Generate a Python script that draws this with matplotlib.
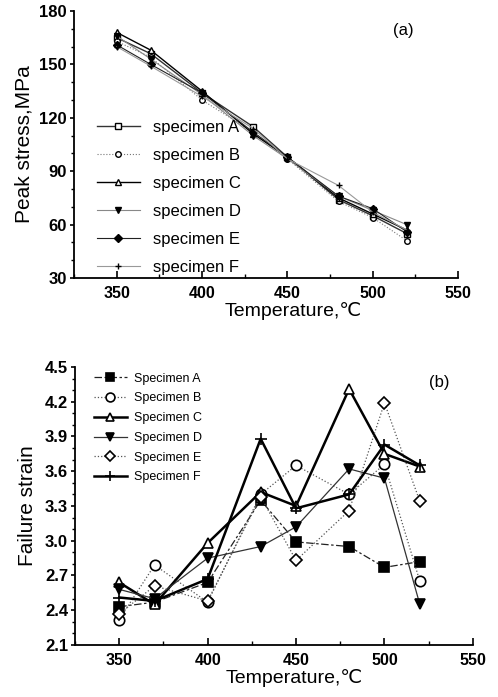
import matplotlib
matplotlib.use("Agg")
import matplotlib.pyplot as plt
from matplotlib.ticker import MultipleLocator

plt.rcParams['font.family'] = ['Liberation Sans', 'DejaVu Sans']

temps = [350, 370, 400, 430, 450, 480, 500, 520]

# (a) Peak stress, MPa
stress_A = [165, 156, 134, 115, 98, 74, 65, 55]
stress_B = [163, 154, 130, 112, 97, 73, 64, 51]
stress_C = [168, 158, 135, 111, 98, 75, 66, 57]
stress_D = [166, 153, 133, 110, 97, 76, 68, 60]
stress_E = [161, 150, 134, 112, 98, 76, 69, 56]
stress_F = [160, 149, 132, 114, 97, 82, 67, 57]

# (b) Failure strain
strain_A = [2.43, 2.47, 2.64, 3.35, 2.99, 2.95, 2.77, 2.82]
strain_B = [2.32, 2.79, 2.47, 3.40, 3.65, 3.40, 3.66, 2.65]
strain_C = [2.64, 2.45, 2.98, 3.42, 3.30, 4.31, 3.75, 3.64]
strain_D = [2.58, 2.50, 2.85, 2.95, 3.12, 3.62, 3.54, 2.45]
strain_E = [2.37, 2.61, 2.48, 3.38, 2.83, 3.26, 4.19, 3.34]
strain_F = [2.51, 2.48, 2.67, 3.88, 3.28, 3.40, 3.83, 3.65]

labels_a = ["specimen A", "specimen B", "specimen C", "specimen D", "specimen E", "specimen F"]
labels_b = ["Specimen A", "Specimen B", "Specimen C", "Specimen D", "Specimen E", "Specimen F"]

fig = plt.figure(figsize=(4.98, 6.97), dpi=100)

def style_axes(ax):
    ax.spines['top'].set_visible(False)
    ax.spines['right'].set_visible(False)
    ax.spines['left'].set_linewidth(1.3)
    ax.spines['bottom'].set_linewidth(1.3)
    ax.tick_params(axis='x', direction='in', length=5, width=1.2, labelsize=11.5, pad=6)
    ax.tick_params(axis='x', which='minor', direction='in', length=3, width=1)
    ax.tick_params(axis='y', direction='out', length=3, width=1.2, labelsize=12, pad=2)
    ax.tick_params(axis='y', which='minor', direction='out', length=2, width=1)
    for t in ax.get_xticklabels() + ax.get_yticklabels():
        t.set_fontweight('bold')

# ---- (a) ----
ax1 = fig.add_axes([0.1486, 0.6011, 0.771, 0.3831])
stress = [stress_A, stress_B, stress_C, stress_D, stress_E, stress_F]
styles_a = [
    dict(marker='s', mfc='white', mec='black', ls='-', lw=1.0, color='#333333'),
    dict(marker='o', mfc='white', mec='black', ls=':', lw=0.8, color='#777777'),
    dict(marker='^', mfc='white', mec='black', ls='-', lw=1.0, color='black'),
    dict(marker='v', mfc='black', mec='black', ls='-', lw=0.8, color='#888888'),
    dict(marker='D', mfc='black', mec='black', ls='-', lw=0.8, color='#222222'),
    dict(marker='+', mfc='black', mec='black', ls='-', lw=0.8, color='#999999'),
]
for vals, lab, st in zip(stress, labels_a, styles_a):
    ax1.plot(temps, vals, label=lab, ms=4, mew=1.0, **st)
ax1.set_xlim(325, 550)
ax1.set_ylim(30, 180)
ax1.xaxis.set_major_locator(MultipleLocator(50))
ax1.xaxis.set_minor_locator(MultipleLocator(25))
ax1.yaxis.set_major_locator(MultipleLocator(30))
ax1.yaxis.set_minor_locator(MultipleLocator(10))
style_axes(ax1)
ax1.set_ylabel("Peak stress,MPa", fontsize=15, labelpad=4)
ax1.set_xlabel("Temperature,\u2103", fontsize=14, labelpad=2)
ax1.xaxis.set_label_coords(0.57, -0.09)
ax1.text(518, 169, "(a)", fontsize=12, ha='center', va='center')
leg1 = ax1.legend(loc='lower left', bbox_to_anchor=(0.02, -0.045), frameon=False,
                  fontsize=12, handlelength=2.6, labelspacing=0.78, handletextpad=0.8)

# ---- (b) ----
ax2 = fig.add_axes([0.1506, 0.0746, 0.799, 0.3989])
strain = [strain_A, strain_B, strain_C, strain_D, strain_E, strain_F]
styles_b = [
    dict(marker='s', mfc='black', mec='black', ls=(0, (6, 2, 2, 2)), lw=0.9, color='#222222'),
    dict(marker='o', mfc='white', mec='black', ls=':', lw=0.9, color='#555555'),
    dict(marker='^', mfc='white', mec='black', ls='-', lw=1.8, color='black'),
    dict(marker='v', mfc='black', mec='black', ls='-', lw=0.9, color='#333333'),
    dict(marker='D', mfc='white', mec='black', ls=':', lw=0.9, color='#555555', ms=6),
    dict(marker='+', mfc='black', mec='black', ls='-', lw=1.8, color='black', ms=9),
]
for vals, lab, st in zip(strain, labels_b, styles_b):
    st = dict(st)
    ms = st.pop('ms', 7.5)
    ax2.plot(temps, vals, label=lab, ms=ms, mew=1.2, **st)
ax2.set_xlim(325, 550)
ax2.set_ylim(2.1, 4.5)
ax2.xaxis.set_major_locator(MultipleLocator(50))
ax2.xaxis.set_minor_locator(MultipleLocator(25))
ax2.yaxis.set_major_locator(MultipleLocator(0.3))
ax2.yaxis.set_minor_locator(MultipleLocator(0.1))
ax2.yaxis.set_major_formatter(matplotlib.ticker.FormatStrFormatter('%.1f'))
style_axes(ax2)
ax2.set_ylabel("Failure strain", fontsize=15, labelpad=6)
ax2.set_xlabel("Temperature,\u2103", fontsize=14, labelpad=2)
ax2.xaxis.set_label_coords(0.55, -0.085)
ax2.text(531, 4.37, "(b)", fontsize=12, ha='center', va='center')
leg2 = ax2.legend(loc='upper left', bbox_to_anchor=(0.02, 1.02), frameon=False,
                  fontsize=9, handlelength=2.6, labelspacing=0.62, handletextpad=0.6,
                  markerscale=0.85)

fig.savefig("out.png", dpi=100)
